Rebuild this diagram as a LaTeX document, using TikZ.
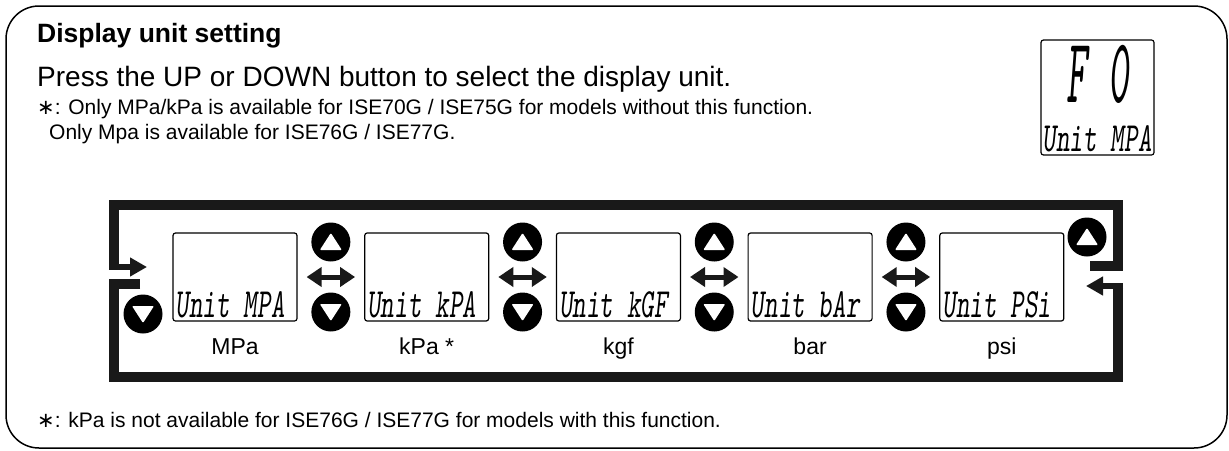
\documentclass[tikz,border=0pt]{standalone}
\usepackage{fontspec}
\setmainfont{Liberation Sans}
\newfontfamily\symfont{DejaVu Sans}
\usetikzlibrary{positioning,arrows.meta}

\newcommand{\seg}[1]{\scalebox{1}[1.6]{\ttfamily\slshape\fontsize{26}{26}\selectfont #1}}
\newcommand{\bigseg}[1]{\scalebox{1}[2.3]{\ttfamily\slshape\fontsize{40}{40}\selectfont #1}}
\newcommand{\astx}{{\symfont ∗}}

\tikzset{
  lcd/.style={draw, rounded corners=2.5pt, line width=1.2pt, minimum width=124pt, minimum height=88pt, inner sep=0pt},
  segtxt/.style={inner sep=0pt, anchor=south west},
  btn/.style={circle, fill=black, minimum size=39pt, inner sep=0pt},
  upbtn/.style={btn, path picture={\fill[white, rounded corners=1pt]
    ([yshift=9pt]path picture bounding box.center) -- ([shift={(-11pt,-8pt)}]path picture bounding box.center)
    -- ([shift={(11pt,-8pt)}]path picture bounding box.center) -- cycle;}},
  downbtn/.style={btn, path picture={\fill[white, rounded corners=1pt]
    ([yshift=-9pt]path picture bounding box.center) -- ([shift={(-11pt,8pt)}]path picture bounding box.center)
    -- ([shift={(11pt,8pt)}]path picture bounding box.center) -- cycle;}},
  unit/.style={anchor=base, inner sep=0pt, font=\fontsize{23}{26}\selectfont},
  note/.style={anchor=base west, inner sep=0pt, font=\fontsize{21}{24}\selectfont},
  bar/.style={line width=10pt, line join=miter, color=black!90},
  inarrow/.style={line width=6pt, color=black!90, -{Triangle[length=17pt,width=18pt]}},
  dbl/.style={line width=5pt, color=black!90, {Triangle[length=15pt,width=19pt]}-{Triangle[length=15pt,width=19pt]}, shorten <=9pt, shorten >=9pt}
}

\begin{document}
\begin{tikzpicture}[x=1pt, y=-1pt, node distance=66.5pt]
  \useasboundingbox (0,0) rectangle (1229,450);
  \draw[line width=1.5pt, rounded corners=33pt] (6,6) rectangle (1227,448);

  % texts
  \node[anchor=base west, inner sep=0pt, font=\bfseries\fontsize{26.5}{30}\selectfont] (title) at (37,42) {Display unit setting};
  \node[anchor=base west, inner sep=0pt, font=\fontsize{28}{30}\selectfont] (press) at (37,86) {Press the UP or DOWN button to select the display unit.};
  \node[note] (note1) at (37,114) {\astx: Only MPa/kPa is available for ISE70G / ISE75G for models without this function.};
  \node[note] (note2) at (49,139) {Only Mpa is available for ISE76G / ISE77G.};
  \node[note] (note3) at (37,427) {\astx: kPa is not available for ISE76G / ISE77G for models with this function.};

  % display in the corner
  \node[lcd, minimum width=113pt, minimum height=115pt] (panel) at (1097.5,97.5) {};
  \node[inner sep=0pt, anchor=north] (fno) at ([yshift=-6pt]panel.north) {\bigseg{F 0}};
  \node[segtxt] (pname) at ([shift={(2pt,3pt)}]panel.south west) {\seg{Unit MPA}};

  % unit displays
  \node[lcd] (b1) at (235,277) {};
  \node[lcd, right=of b1] (b2) {};
  \node[lcd, right=of b2] (b3) {};
  \node[lcd, right=of b3] (b4) {};
  \node[lcd, right=of b4] (b5) {};

  \node[segtxt] (t1) at ([shift={(3pt,3pt)}]b1.south west) {\seg{Unit MPA}};
  \node[segtxt] (t2) at ([shift={(3pt,3pt)}]b2.south west) {\seg{Unit kPA}};
  \node[segtxt] (t3) at ([shift={(3pt,3pt)}]b3.south west) {\seg{Unit kGF}};
  \node[segtxt] (t4) at ([shift={(3pt,3pt)}]b4.south west) {\seg{Unit bAr}};
  \node[segtxt] (t5) at ([shift={(3pt,3pt)}]b5.south west) {\seg{Unit PSi}};

  \node[unit] (l1) at ([yshift=-33pt]b1.south) {MPa};
  \node[unit] (l2) at ([yshift=-33pt]b2.south) {kPa *};
  \node[unit] (l3) at ([yshift=-33pt]b3.south) {kgf};
  \node[unit] (l4) at ([yshift=-33pt]b4.south) {bar};
  \node[unit] (l5) at ([yshift=-33pt]b5.south) {psi};

  % buttons and arrows between displays
  \foreach \a/\b [count=\i] in {b1/b2, b2/b3, b3/b4, b4/b5} {
    \path (\a.east) -- (\b.west) coordinate[midway] (m\i);
    \node[upbtn] (u\i) at ([yshift=35pt]m\i) {};
    \node[downbtn] (d\i) at ([yshift=-35pt]m\i) {};
    \draw[dbl] (\a.east) -- (\b.west);
  }
  \node[downbtn] (dl) at (143,314) {};
  \node[upbtn] (ur) at (1087,237) {};

  % loop
  \coordinate (tl) at (114,205);
  \coordinate (tr) at (1118,205);
  \coordinate (bl) at (114,377);
  \coordinate (br) at (1118,377);
  \coordinate (upin) at (114,267);
  \coordinate (uptip) at (147,267);
  \coordinate (upout) at (1090,266);
  \coordinate (dnin) at (1118,286);
  \coordinate (dntip) at (1086,286);
  \coordinate (dnout) at (140,284);
  \draw[bar] (upout) -- (tr |- upout) -- (tr) -- (tl) -- (upin);
  \draw[inarrow] ([xshift=-5pt]upin) -- (uptip);
  \draw[bar] (dnout) -- (bl |- dnout) -- (bl) -- (br) -- ([yshift=-3pt]dnin);
  \draw[inarrow] ([xshift=5pt]dnin) -- (dntip);
\end{tikzpicture}
\end{document}
